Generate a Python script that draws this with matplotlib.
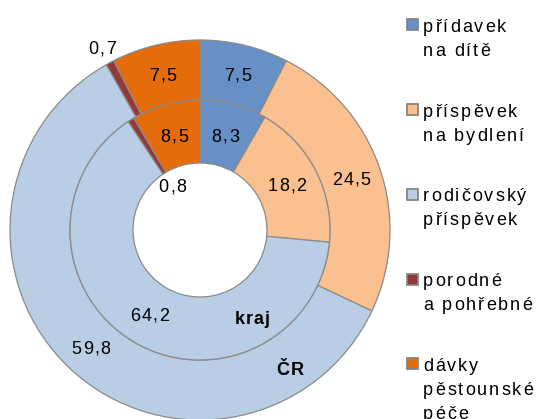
import matplotlib
matplotlib.use('Agg')
import matplotlib.pyplot as plt
from matplotlib.patches import Rectangle
from matplotlib.font_manager import FontProperties
import numpy as np

plt.rcParams['font.family'] = ['Liberation Sans', 'DejaVu Sans']

categories = ['přídavek\nna dítě', 'příspěvek\nna bydlení', 'rodičovský\npříspěvek',
              'porodné\na pohřebné', 'dávky\npěstounské\npéče']
cr_values = [7.5, 24.5, 59.8, 0.7, 7.5]
kraj_values = [8.3, 18.2, 64.2, 0.8, 8.5]
cr_labels = ['7,5', '24,5', '59,8', '0,7', '7,5']
kraj_labels = ['8,3', '18,2', '64,2', '0,8', '8,5']
colors = ['#6790C6', '#FAC090', '#B9CDE5', '#953735', '#E46C0A']

W, H = 539, 419
fig = plt.figure(figsize=(W / 100, H / 100), dpi=100)
# circle centre at (200, 230) px, outer radius 190 px
ax = fig.add_axes([10 / W, (H - 420) / H, 380 / W, 380 / H])

R_out = 1.0
R_mid = 130 / 190
R_in = 67 / 190
edge = dict(edgecolor='#8A8A8A', linewidth=0.9)

w_out, _ = ax.pie(cr_values, colors=colors, startangle=90, counterclock=False,
                  radius=R_out, wedgeprops=dict(width=R_out - R_mid, **edge))
w_in, _ = ax.pie(kraj_values, colors=colors, startangle=90, counterclock=False,
                 radius=R_mid, wedgeprops=dict(width=R_mid - R_in, **edge))
ax.set_xlim(-1, 1)
ax.set_ylim(-1, 1)
ax.axis('off')

fs = 13
renderer = fig.canvas.get_renderer()


def spaced(x, y, s, gap=1.8, ha='left', weight='normal'):
    # x, y in pixels from top-left, y is the baseline; extra gap between letters
    fp = FontProperties(family=['Liberation Sans'], size=fs, weight=weight)
    widths = [renderer.get_text_width_height_descent(c, fp, ismath=False)[0]
              for c in s]
    total = sum(widths) + gap * (len(s) - 1)
    if ha == 'center':
        x = x - total / 2
    for c, w in zip(s, widths):
        fig.text(x / W, 1 - y / H, c, fontproperties=fp, ha='left',
                 va='baseline')
        x += w + gap


def to_px(r, ang):
    return 200 + 190 * r * np.cos(ang), 230 - 190 * r * np.sin(ang)


def put_labels(wedges, labels, r_default, r_small):
    for wd, lab in zip(wedges, labels):
        ang = np.radians((wd.theta1 + wd.theta2) / 2)
        r = r_small if abs(wd.theta2 - wd.theta1) < 5 else r_default
        px, py = to_px(r, ang)
        spaced(px, py + 6.5, lab, gap=1.3, ha='center')


put_labels(w_out, cr_labels, 160 / 190, 207 / 190)
put_labels(w_in, kraj_labels, 98 / 190, 52 / 190)

spaced(252, 324, 'kraj', gap=1.0, ha='center', weight='bold')
spaced(290, 375, 'ČR', gap=1.0, ha='center', weight='bold')

# legend
for i, (lab, col) in enumerate(zip(categories, colors)):
    yc = 25 + i * 84.7
    fig.add_artist(Rectangle((407 / W, (H - yc - 5.5) / H), 11 / W, 11 / H,
                             facecolor=col, edgecolor='#858585', linewidth=1.3,
                             transform=fig.transFigure))
    for j, line in enumerate(lab.split('\n')):
        spaced(423, yc + 7 + j * 24, line, gap=2.0)

fig.savefig('out.png', dpi=100)
